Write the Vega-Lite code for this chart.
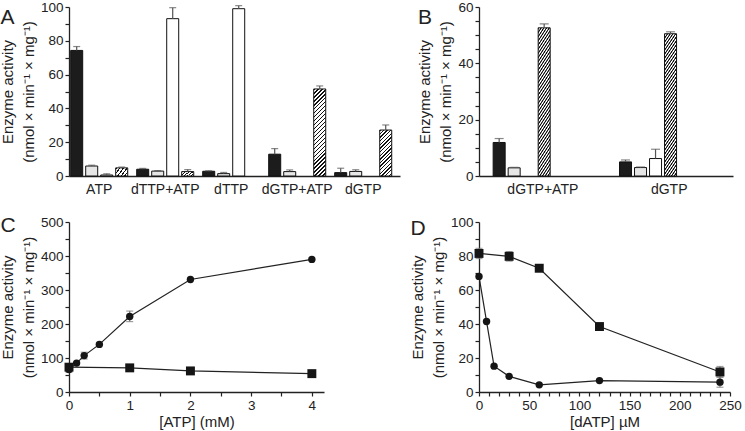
{
"$schema":"https://vega.github.io/schema/vega-lite/v6.json",
"padding":{"left":0,"top":0,"right":0,"bottom":0},
"columns":2,
"align":"each",
"spacing":{"row":19,"column":10},
"config":{
 "font":"Liberation Sans",
 "view":{"stroke":null},
 "axis":{"grid":false,"domainColor":"#222","domainWidth":1.3,"tickColor":"#222","tickWidth":1.2,"tickSize":4,"labelColor":"#222","labelFontSize":13.5,"labelPadding":2,"labelOverlap":false,"labelFlush":false,"titleColor":"#222","titleFontSize":15,"titleFontWeight":"normal"},
 "axisX":{"titlePadding":3},
 "title":{"fontSize":21,"fontWeight":"normal","anchor":"start","frame":"bounds","offset":0,"color":"#222"}
},
"concat":[
{
 "width":331,"height":169,
 "title":{"text":"A","dy":32},
 "data":{"values":[
  {"substrate":"ATP","type":"black","value":74.3,"hi":76.6},
  {"substrate":"ATP","type":"dotted","value":5.9,"hi":6.4},
  {"substrate":"ATP","type":"white","value":0.6,"hi":1.3},
  {"substrate":"ATP","type":"hatched","value":4.8,"hi":5.3},
  {"substrate":"dTTP+ATP","type":"black","value":4.0,"hi":4.5},
  {"substrate":"dTTP+ATP","type":"dotted","value":2.9,"hi":3.2},
  {"substrate":"dTTP+ATP","type":"white","value":93.1,"hi":99.6},
  {"substrate":"dTTP+ATP","type":"hatched","value":2.6,"hi":3.8},
  {"substrate":"dTTP","type":"black","value":2.8,"hi":3.1},
  {"substrate":"dTTP","type":"dotted","value":1.4,"hi":2.1},
  {"substrate":"dTTP","type":"white","value":99.0,"hi":100.8},
  {"substrate":"dGTP+ATP","type":"black","value":12.9,"hi":16.2},
  {"substrate":"dGTP+ATP","type":"dotted","value":2.6,"hi":3.6},
  {"substrate":"dGTP+ATP","type":"hatched","value":51.5,"hi":53.3},
  {"substrate":"dGTP","type":"black","value":2.0,"hi":4.6},
  {"substrate":"dGTP","type":"dotted","value":2.7,"hi":3.7},
  {"substrate":"dGTP","type":"hatched","value":27.2,"hi":30.2}
 ]},
 "resolve":{"axis":{"y":"independent"}},
 "encoding":{
  "x":{"field":"substrate","type":"nominal","sort":["ATP","dTTP+ATP","dTTP","dGTP+ATP","dGTP"],"scale":{"paddingInner":0.136,"paddingOuter":0.0755,"align":0.17},"axis":{"title":null,"ticks":false,"labelAngle":0,"labelFontSize":14,"labelPadding":6}},
  "xOffset":{"field":"type","type":"nominal","sort":["black","dotted","white","hatched"],"scale":{"paddingInner":0.2,"paddingOuter":0}}
 },
 "layer":[
  {"mark":{"type":"bar","stroke":"#111","strokeWidth":1},
   "encoding":{
    "y":{"field":"value","type":"quantitative","scale":{"domain":[0,100],"nice":false},"axis":{"orient":"left","title":["Enzyme activity","(nmol × min⁻¹ × mg⁻¹)"],"titlePadding":4,"titleLineHeight":21,"labelOverlap":false,"values":[0,20,40,60,80,100],"format":"d"}},
    "fill":{"condition":[
     {"test":"datum.type == 'black'","value":"#1c1c1c"},
     {"test":"datum.type == 'dotted'","value":"#e6e6e6"},
     {"test":"datum.type == 'white'","value":"#ffffff"},
     {"test":"datum.substrate == 'dGTP+ATP'","value":{"gradient":"linear","x1":0,"y1":0,"x2":0.154,"y2":1.117,"stops":[
{"offset":0,"color":"#111"},{"offset":0.015,"color":"#111"},{"offset":0.015,"color":"#fff"},{"offset":0.04,"color":"#fff"},
{"offset":0.04,"color":"#111"},{"offset":0.055,"color":"#111"},{"offset":0.055,"color":"#fff"},{"offset":0.08,"color":"#fff"},
{"offset":0.08,"color":"#111"},{"offset":0.095,"color":"#111"},{"offset":0.095,"color":"#fff"},{"offset":0.12,"color":"#fff"},
{"offset":0.12,"color":"#111"},{"offset":0.135,"color":"#111"},{"offset":0.135,"color":"#fff"},{"offset":0.16,"color":"#fff"},
{"offset":0.16,"color":"#111"},{"offset":0.175,"color":"#111"},{"offset":0.175,"color":"#fff"},{"offset":0.2,"color":"#fff"},
{"offset":0.2,"color":"#111"},{"offset":0.215,"color":"#111"},{"offset":0.215,"color":"#fff"},{"offset":0.24,"color":"#fff"},
{"offset":0.24,"color":"#111"},{"offset":0.255,"color":"#111"},{"offset":0.255,"color":"#fff"},{"offset":0.28,"color":"#fff"},
{"offset":0.28,"color":"#111"},{"offset":0.295,"color":"#111"},{"offset":0.295,"color":"#fff"},{"offset":0.32,"color":"#fff"},
{"offset":0.32,"color":"#111"},{"offset":0.335,"color":"#111"},{"offset":0.335,"color":"#fff"},{"offset":0.36,"color":"#fff"},
{"offset":0.36,"color":"#111"},{"offset":0.375,"color":"#111"},{"offset":0.375,"color":"#fff"},{"offset":0.4,"color":"#fff"},
{"offset":0.4,"color":"#111"},{"offset":0.415,"color":"#111"},{"offset":0.415,"color":"#fff"},{"offset":0.44,"color":"#fff"},
{"offset":0.44,"color":"#111"},{"offset":0.455,"color":"#111"},{"offset":0.455,"color":"#fff"},{"offset":0.48,"color":"#fff"},
{"offset":0.48,"color":"#111"},{"offset":0.495,"color":"#111"},{"offset":0.495,"color":"#fff"},{"offset":0.52,"color":"#fff"},
{"offset":0.52,"color":"#111"},{"offset":0.535,"color":"#111"},{"offset":0.535,"color":"#fff"},{"offset":0.56,"color":"#fff"},
{"offset":0.56,"color":"#111"},{"offset":0.575,"color":"#111"},{"offset":0.575,"color":"#fff"},{"offset":0.6,"color":"#fff"},
{"offset":0.6,"color":"#111"},{"offset":0.615,"color":"#111"},{"offset":0.615,"color":"#fff"},{"offset":0.64,"color":"#fff"},
{"offset":0.64,"color":"#111"},{"offset":0.655,"color":"#111"},{"offset":0.655,"color":"#fff"},{"offset":0.68,"color":"#fff"},
{"offset":0.68,"color":"#111"},{"offset":0.695,"color":"#111"},{"offset":0.695,"color":"#fff"},{"offset":0.72,"color":"#fff"},
{"offset":0.72,"color":"#111"},{"offset":0.735,"color":"#111"},{"offset":0.735,"color":"#fff"},{"offset":0.76,"color":"#fff"},
{"offset":0.76,"color":"#111"},{"offset":0.775,"color":"#111"},{"offset":0.775,"color":"#fff"},{"offset":0.8,"color":"#fff"},
{"offset":0.8,"color":"#111"},{"offset":0.815,"color":"#111"},{"offset":0.815,"color":"#fff"},{"offset":0.84,"color":"#fff"},
{"offset":0.84,"color":"#111"},{"offset":0.855,"color":"#111"},{"offset":0.855,"color":"#fff"},{"offset":0.88,"color":"#fff"},
{"offset":0.88,"color":"#111"},{"offset":0.895,"color":"#111"},{"offset":0.895,"color":"#fff"},{"offset":0.92,"color":"#fff"},
{"offset":0.92,"color":"#111"},{"offset":0.935,"color":"#111"},{"offset":0.935,"color":"#fff"},{"offset":0.96,"color":"#fff"},
{"offset":0.96,"color":"#111"},{"offset":0.975,"color":"#111"},{"offset":0.975,"color":"#fff"},{"offset":1,"color":"#fff"}
     ]}},
     {"test":"datum.substrate == 'dGTP'","value":{"gradient":"linear","x1":0,"y1":0,"x2":0.309,"y2":1.18,"stops":[
{"offset":0,"color":"#111"},{"offset":0.0225,"color":"#111"},{"offset":0.0225,"color":"#fff"},{"offset":0.0625,"color":"#fff"},
{"offset":0.0625,"color":"#111"},{"offset":0.085,"color":"#111"},{"offset":0.085,"color":"#fff"},{"offset":0.125,"color":"#fff"},
{"offset":0.125,"color":"#111"},{"offset":0.1475,"color":"#111"},{"offset":0.1475,"color":"#fff"},{"offset":0.1875,"color":"#fff"},
{"offset":0.1875,"color":"#111"},{"offset":0.21,"color":"#111"},{"offset":0.21,"color":"#fff"},{"offset":0.25,"color":"#fff"},
{"offset":0.25,"color":"#111"},{"offset":0.2725,"color":"#111"},{"offset":0.2725,"color":"#fff"},{"offset":0.3125,"color":"#fff"},
{"offset":0.3125,"color":"#111"},{"offset":0.335,"color":"#111"},{"offset":0.335,"color":"#fff"},{"offset":0.375,"color":"#fff"},
{"offset":0.375,"color":"#111"},{"offset":0.3975,"color":"#111"},{"offset":0.3975,"color":"#fff"},{"offset":0.4375,"color":"#fff"},
{"offset":0.4375,"color":"#111"},{"offset":0.46,"color":"#111"},{"offset":0.46,"color":"#fff"},{"offset":0.5,"color":"#fff"},
{"offset":0.5,"color":"#111"},{"offset":0.5225,"color":"#111"},{"offset":0.5225,"color":"#fff"},{"offset":0.5625,"color":"#fff"},
{"offset":0.5625,"color":"#111"},{"offset":0.585,"color":"#111"},{"offset":0.585,"color":"#fff"},{"offset":0.625,"color":"#fff"},
{"offset":0.625,"color":"#111"},{"offset":0.6475,"color":"#111"},{"offset":0.6475,"color":"#fff"},{"offset":0.6875,"color":"#fff"},
{"offset":0.6875,"color":"#111"},{"offset":0.71,"color":"#111"},{"offset":0.71,"color":"#fff"},{"offset":0.75,"color":"#fff"},
{"offset":0.75,"color":"#111"},{"offset":0.7725,"color":"#111"},{"offset":0.7725,"color":"#fff"},{"offset":0.8125,"color":"#fff"},
{"offset":0.8125,"color":"#111"},{"offset":0.835,"color":"#111"},{"offset":0.835,"color":"#fff"},{"offset":0.875,"color":"#fff"},
{"offset":0.875,"color":"#111"},{"offset":0.8975,"color":"#111"},{"offset":0.8975,"color":"#fff"},{"offset":0.9375,"color":"#fff"},
{"offset":0.9375,"color":"#111"},{"offset":0.96,"color":"#111"},{"offset":0.96,"color":"#fff"},{"offset":1,"color":"#fff"}
     ]}}
    ],
    "value":{"gradient":"linear","x1":0,"y1":0,"x2":1.2,"y2":0.6,"stops":[
{"offset":0,"color":"#111"},{"offset":0.07,"color":"#111"},{"offset":0.07,"color":"#fff"},{"offset":0.2,"color":"#fff"},
{"offset":0.2,"color":"#111"},{"offset":0.27,"color":"#111"},{"offset":0.27,"color":"#fff"},{"offset":0.4,"color":"#fff"},
{"offset":0.4,"color":"#111"},{"offset":0.47,"color":"#111"},{"offset":0.47,"color":"#fff"},{"offset":0.6,"color":"#fff"},
{"offset":0.6,"color":"#111"},{"offset":0.67,"color":"#111"},{"offset":0.67,"color":"#fff"},{"offset":0.8,"color":"#fff"},
{"offset":0.8,"color":"#111"},{"offset":0.87,"color":"#111"},{"offset":0.87,"color":"#fff"},{"offset":1,"color":"#fff"}
    ]}}
   }
  },
  {"mark":{"type":"rule","color":"#555","strokeWidth":1.2},
   "encoding":{"y":{"field":"value","type":"quantitative","scale":{"domain":[0,100],"nice":false},"axis":{"orient":"left","values":[10,30,50,70,90],"labels":false,"domain":false,"title":null}},"y2":{"field":"hi"}}},
  {"mark":{"type":"tick","color":"#555","thickness":1.2,"size":7},
   "encoding":{"y":{"field":"hi","type":"quantitative","scale":{"domain":[0,100],"nice":false},"axis":null}}}
 ]
},
{
 "width":254,"height":169,
 "title":{"text":"B","dy":32},
 "data":{"values":[
  {"substrate":"dGTP+ATP","type":"black","value":11.9,"hi":13.3},
  {"substrate":"dGTP+ATP","type":"dotted","value":2.9,"hi":3.1},
  {"substrate":"dGTP+ATP","type":"hatched","value":52.6,"hi":54.0},
  {"substrate":"dGTP","type":"black","value":5.0,"hi":5.7},
  {"substrate":"dGTP","type":"dotted","value":3.0,"hi":3.2},
  {"substrate":"dGTP","type":"white","value":6.2,"hi":9.5},
  {"substrate":"dGTP","type":"hatched","value":50.5,"hi":51.2}
 ]},
 "resolve":{"axis":{"y":"independent"}},
 "encoding":{
  "x":{"field":"substrate","type":"nominal","sort":["dGTP+ATP","dGTP"],"scale":{"paddingInner":0.214,"paddingOuter":0.112},"axis":{"title":null,"ticks":false,"labelAngle":0,"labelFontSize":14,"labelPadding":6}},
  "xOffset":{"field":"type","type":"nominal","sort":["black","dotted","white","hatched"],"scale":{"paddingInner":0.333,"paddingOuter":0}}
 },
 "layer":[
  {"mark":{"type":"bar","stroke":"#111","strokeWidth":1},
   "encoding":{
    "y":{"field":"value","type":"quantitative","scale":{"domain":[0,60],"nice":false},"axis":{"orient":"left","title":["Enzyme activity","(nmol × min⁻¹ × mg⁻¹)"],"titlePadding":4,"titleLineHeight":21,"labelOverlap":false,"values":[0,20,40,60],"format":"d"}},
    "fill":{"condition":[
     {"test":"datum.type == 'black'","value":"#1c1c1c"},
     {"test":"datum.type == 'dotted'","value":"#e6e6e6"},
     {"test":"datum.type == 'white'","value":"#ffffff"}
    ],
    "value":{"gradient":"linear","x1":0,"y1":0,"x2":0.1385,"y2":1.108,"stops":[
{"offset":0,"color":"#111"},{"offset":0.006,"color":"#111"},{"offset":0.012,"color":"#fff"},{"offset":0.019,"color":"#fff"},
{"offset":0.025,"color":"#111"},{"offset":0.031,"color":"#111"},{"offset":0.037,"color":"#fff"},{"offset":0.044,"color":"#fff"},
{"offset":0.05,"color":"#111"},{"offset":0.056,"color":"#111"},{"offset":0.062,"color":"#fff"},{"offset":0.069,"color":"#fff"},
{"offset":0.075,"color":"#111"},{"offset":0.081,"color":"#111"},{"offset":0.087,"color":"#fff"},{"offset":0.094,"color":"#fff"},
{"offset":0.1,"color":"#111"},{"offset":0.106,"color":"#111"},{"offset":0.112,"color":"#fff"},{"offset":0.119,"color":"#fff"},
{"offset":0.125,"color":"#111"},{"offset":0.131,"color":"#111"},{"offset":0.137,"color":"#fff"},{"offset":0.144,"color":"#fff"},
{"offset":0.15,"color":"#111"},{"offset":0.156,"color":"#111"},{"offset":0.162,"color":"#fff"},{"offset":0.169,"color":"#fff"},
{"offset":0.175,"color":"#111"},{"offset":0.181,"color":"#111"},{"offset":0.187,"color":"#fff"},{"offset":0.194,"color":"#fff"},
{"offset":0.2,"color":"#111"},{"offset":0.206,"color":"#111"},{"offset":0.212,"color":"#fff"},{"offset":0.219,"color":"#fff"},
{"offset":0.225,"color":"#111"},{"offset":0.231,"color":"#111"},{"offset":0.237,"color":"#fff"},{"offset":0.244,"color":"#fff"},
{"offset":0.25,"color":"#111"},{"offset":0.256,"color":"#111"},{"offset":0.262,"color":"#fff"},{"offset":0.269,"color":"#fff"},
{"offset":0.275,"color":"#111"},{"offset":0.281,"color":"#111"},{"offset":0.287,"color":"#fff"},{"offset":0.294,"color":"#fff"},
{"offset":0.3,"color":"#111"},{"offset":0.306,"color":"#111"},{"offset":0.312,"color":"#fff"},{"offset":0.319,"color":"#fff"},
{"offset":0.325,"color":"#111"},{"offset":0.331,"color":"#111"},{"offset":0.337,"color":"#fff"},{"offset":0.344,"color":"#fff"},
{"offset":0.35,"color":"#111"},{"offset":0.356,"color":"#111"},{"offset":0.362,"color":"#fff"},{"offset":0.369,"color":"#fff"},
{"offset":0.375,"color":"#111"},{"offset":0.381,"color":"#111"},{"offset":0.387,"color":"#fff"},{"offset":0.394,"color":"#fff"},
{"offset":0.4,"color":"#111"},{"offset":0.406,"color":"#111"},{"offset":0.412,"color":"#fff"},{"offset":0.419,"color":"#fff"},
{"offset":0.425,"color":"#111"},{"offset":0.431,"color":"#111"},{"offset":0.437,"color":"#fff"},{"offset":0.444,"color":"#fff"},
{"offset":0.45,"color":"#111"},{"offset":0.456,"color":"#111"},{"offset":0.462,"color":"#fff"},{"offset":0.469,"color":"#fff"},
{"offset":0.475,"color":"#111"},{"offset":0.481,"color":"#111"},{"offset":0.487,"color":"#fff"},{"offset":0.494,"color":"#fff"},
{"offset":0.5,"color":"#111"},{"offset":0.506,"color":"#111"},{"offset":0.512,"color":"#fff"},{"offset":0.519,"color":"#fff"},
{"offset":0.525,"color":"#111"},{"offset":0.531,"color":"#111"},{"offset":0.537,"color":"#fff"},{"offset":0.544,"color":"#fff"},
{"offset":0.55,"color":"#111"},{"offset":0.556,"color":"#111"},{"offset":0.562,"color":"#fff"},{"offset":0.569,"color":"#fff"},
{"offset":0.575,"color":"#111"},{"offset":0.581,"color":"#111"},{"offset":0.587,"color":"#fff"},{"offset":0.594,"color":"#fff"},
{"offset":0.6,"color":"#111"},{"offset":0.606,"color":"#111"},{"offset":0.612,"color":"#fff"},{"offset":0.619,"color":"#fff"},
{"offset":0.625,"color":"#111"},{"offset":0.631,"color":"#111"},{"offset":0.637,"color":"#fff"},{"offset":0.644,"color":"#fff"},
{"offset":0.65,"color":"#111"},{"offset":0.656,"color":"#111"},{"offset":0.662,"color":"#fff"},{"offset":0.669,"color":"#fff"},
{"offset":0.675,"color":"#111"},{"offset":0.681,"color":"#111"},{"offset":0.687,"color":"#fff"},{"offset":0.694,"color":"#fff"},
{"offset":0.7,"color":"#111"},{"offset":0.706,"color":"#111"},{"offset":0.712,"color":"#fff"},{"offset":0.719,"color":"#fff"},
{"offset":0.725,"color":"#111"},{"offset":0.731,"color":"#111"},{"offset":0.737,"color":"#fff"},{"offset":0.744,"color":"#fff"},
{"offset":0.75,"color":"#111"},{"offset":0.756,"color":"#111"},{"offset":0.762,"color":"#fff"},{"offset":0.769,"color":"#fff"},
{"offset":0.775,"color":"#111"},{"offset":0.781,"color":"#111"},{"offset":0.787,"color":"#fff"},{"offset":0.794,"color":"#fff"},
{"offset":0.8,"color":"#111"},{"offset":0.806,"color":"#111"},{"offset":0.812,"color":"#fff"},{"offset":0.819,"color":"#fff"},
{"offset":0.825,"color":"#111"},{"offset":0.831,"color":"#111"},{"offset":0.837,"color":"#fff"},{"offset":0.844,"color":"#fff"},
{"offset":0.85,"color":"#111"},{"offset":0.856,"color":"#111"},{"offset":0.862,"color":"#fff"},{"offset":0.869,"color":"#fff"},
{"offset":0.875,"color":"#111"},{"offset":0.881,"color":"#111"},{"offset":0.887,"color":"#fff"},{"offset":0.894,"color":"#fff"},
{"offset":0.9,"color":"#111"},{"offset":0.906,"color":"#111"},{"offset":0.912,"color":"#fff"},{"offset":0.919,"color":"#fff"},
{"offset":0.925,"color":"#111"},{"offset":0.931,"color":"#111"},{"offset":0.937,"color":"#fff"},{"offset":0.944,"color":"#fff"},
{"offset":0.95,"color":"#111"},{"offset":0.956,"color":"#111"},{"offset":0.962,"color":"#fff"},{"offset":0.969,"color":"#fff"},
{"offset":0.975,"color":"#111"},{"offset":0.981,"color":"#111"},{"offset":0.987,"color":"#fff"},{"offset":1,"color":"#fff"}
    ]}}
   }
  },
  {"mark":{"type":"rule","color":"#555","strokeWidth":1.2},
   "encoding":{"y":{"field":"value","type":"quantitative","scale":{"domain":[0,60],"nice":false},"axis":{"orient":"left","values":[5,10,15,25,30,35,45,50,55],"labels":false,"domain":false,"title":null}},"y2":{"field":"hi"}}},
  {"mark":{"type":"tick","color":"#555","thickness":1.2,"size":9},
   "encoding":{"y":{"field":"hi","type":"quantitative","scale":{"domain":[0,60],"nice":false},"axis":null}}}
 ]
},
{
 "width":255,"height":170,
 "title":{"text":"C","dy":25},
 "data":{"values":[
  {"series":"circle","conc":0,"act":66,"lo":58,"hi":75},
  {"series":"circle","conc":0.125,"act":85},
  {"series":"circle","conc":0.25,"act":107,"lo":97,"hi":117},
  {"series":"circle","conc":0.5,"act":140},
  {"series":"circle","conc":1,"act":222,"lo":207,"hi":238},
  {"series":"circle","conc":2,"act":331},
  {"series":"circle","conc":4,"act":390},
  {"series":"square","conc":0,"act":73},
  {"series":"square","conc":1,"act":71},
  {"series":"square","conc":2,"act":62},
  {"series":"square","conc":4,"act":54}
 ]},
 "resolve":{"axis":{"x":"independent","y":"independent"}},
 "layer":[
  {"transform":[{"filter":"isValid(datum.lo)"}],
   "mark":{"type":"rule","color":"#777","strokeWidth":1.2},
   "encoding":{"x":{"field":"conc","type":"quantitative","scale":{"domain":[0,4.2],"nice":false},"axis":null},"y":{"field":"lo","type":"quantitative","scale":{"domain":[0,500],"nice":false},"axis":null},"y2":{"field":"hi"}}},
  {"transform":[{"filter":"isValid(datum.lo)"}],
   "mark":{"type":"tick","orient":"horizontal","color":"#777","thickness":1.2,"size":7},
   "encoding":{"x":{"field":"conc","type":"quantitative","scale":{"domain":[0,4.2],"nice":false},"axis":null},"y":{"field":"hi","type":"quantitative","scale":{"domain":[0,500],"nice":false},"axis":null}}},
  {"transform":[{"filter":"isValid(datum.lo)"}],
   "mark":{"type":"tick","orient":"horizontal","color":"#777","thickness":1.2,"size":7},
   "encoding":{"x":{"field":"conc","type":"quantitative","scale":{"domain":[0,4.2],"nice":false},"axis":null},"y":{"field":"lo","type":"quantitative","scale":{"domain":[0,500],"nice":false},"axis":null}}},
  {"mark":{"type":"line","color":"#222","strokeWidth":1.2},
   "encoding":{
    "x":{"field":"conc","type":"quantitative","scale":{"domain":[0,4.2],"nice":false},"axis":{"orient":"bottom","title":"[ATP] (mM)","labelOverlap":false,"values":[0,1,2,3,4],"format":"d"}},
    "y":{"field":"act","type":"quantitative","scale":{"domain":[0,500],"nice":false},"axis":{"orient":"left","title":["Enzyme activity","(nmol × min⁻¹ × mg⁻¹)"],"titlePadding":4,"titleLineHeight":21,"labelOverlap":false,"values":[0,100,200,300,400,500],"format":"d"}},
    "detail":{"field":"series"}}},
  {"mark":{"type":"point","filled":true,"opacity":1,"color":"#151515"},
   "encoding":{
    "x":{"field":"conc","type":"quantitative","scale":{"domain":[0,4.2],"nice":false},"axis":{"orient":"bottom","values":[0.5,1.5,2.5,3.5],"labels":false,"domain":false,"title":null}},
    "y":{"field":"act","type":"quantitative","scale":{"domain":[0,500],"nice":false},"axis":{"orient":"left","values":[50,150,250,350,450],"labels":false,"domain":false,"title":null}},
    "shape":{"field":"series","type":"nominal","scale":{"domain":["circle","square"],"range":["circle","square"]},"legend":null},
    "size":{"field":"series","type":"nominal","scale":{"domain":["circle","square"],"range":[55,80]},"legend":null}}}
 ]
},
{
 "width":251,"height":170,
 "title":{"text":"D","dy":28},
 "data":{"values":[
  {"series":"square","conc":0,"act":81.5,"lo":78.5,"hi":84.5},
  {"series":"square","conc":30,"act":79.8,"lo":77,"hi":82.6},
  {"series":"square","conc":60,"act":72.8},
  {"series":"square","conc":120,"act":38.5},
  {"series":"square","conc":240,"act":11.8,"lo":8.7,"hi":15},
  {"series":"circle","conc":0,"act":68},
  {"series":"circle","conc":7.5,"act":41.5},
  {"series":"circle","conc":15,"act":15.2},
  {"series":"circle","conc":30,"act":9.2},
  {"series":"circle","conc":60,"act":4.2},
  {"series":"circle","conc":120,"act":6.7},
  {"series":"circle","conc":240,"act":5.8,"lo":2.8,"hi":8.8}
 ]},
 "resolve":{"axis":{"x":"independent","y":"independent"}},
 "layer":[
  {"transform":[{"filter":"isValid(datum.lo)"}],
   "mark":{"type":"rule","color":"#777","strokeWidth":1.2},
   "encoding":{"x":{"field":"conc","type":"quantitative","scale":{"domain":[0,250],"nice":false},"axis":null},"y":{"field":"lo","type":"quantitative","scale":{"domain":[0,100],"nice":false},"axis":null},"y2":{"field":"hi"}}},
  {"transform":[{"filter":"isValid(datum.lo)"}],
   "mark":{"type":"tick","orient":"horizontal","color":"#777","thickness":1.2,"size":7},
   "encoding":{"x":{"field":"conc","type":"quantitative","scale":{"domain":[0,250],"nice":false},"axis":null},"y":{"field":"hi","type":"quantitative","scale":{"domain":[0,100],"nice":false},"axis":null}}},
  {"transform":[{"filter":"isValid(datum.lo)"}],
   "mark":{"type":"tick","orient":"horizontal","color":"#777","thickness":1.2,"size":7},
   "encoding":{"x":{"field":"conc","type":"quantitative","scale":{"domain":[0,250],"nice":false},"axis":null},"y":{"field":"lo","type":"quantitative","scale":{"domain":[0,100],"nice":false},"axis":null}}},
  {"mark":{"type":"line","color":"#222","strokeWidth":1.2},
   "encoding":{
    "x":{"field":"conc","type":"quantitative","scale":{"domain":[0,250],"nice":false},"axis":{"orient":"bottom","title":"[dATP] µM","labelOverlap":false,"values":[0,50,100,150,200,250],"format":"d"}},
    "y":{"field":"act","type":"quantitative","scale":{"domain":[0,100],"nice":false},"axis":{"orient":"left","title":["Enzyme activity","(nmol × min⁻¹ × mg⁻¹)"],"titlePadding":4,"titleLineHeight":21,"labelOverlap":false,"values":[0,20,40,60,80,100],"format":"d"}},
    "detail":{"field":"series"}}},
  {"mark":{"type":"point","filled":true,"opacity":1,"color":"#151515"},
   "encoding":{
    "x":{"field":"conc","type":"quantitative","scale":{"domain":[0,250],"nice":false},"axis":{"orient":"bottom","values":[10,20,30,40,60,70,80,90,110,120,130,140,160,170,180,190,210,220,230,240],"labels":false,"domain":false,"title":null}},
    "y":{"field":"act","type":"quantitative","scale":{"domain":[0,100],"nice":false},"axis":{"orient":"left","values":[10,30,50,70,90],"labels":false,"domain":false,"title":null}},
    "shape":{"field":"series","type":"nominal","scale":{"domain":["circle","square"],"range":["circle","square"]},"legend":null},
    "size":{"field":"series","type":"nominal","scale":{"domain":["circle","square"],"range":[55,80]},"legend":null}}}
 ]
}
]
}
